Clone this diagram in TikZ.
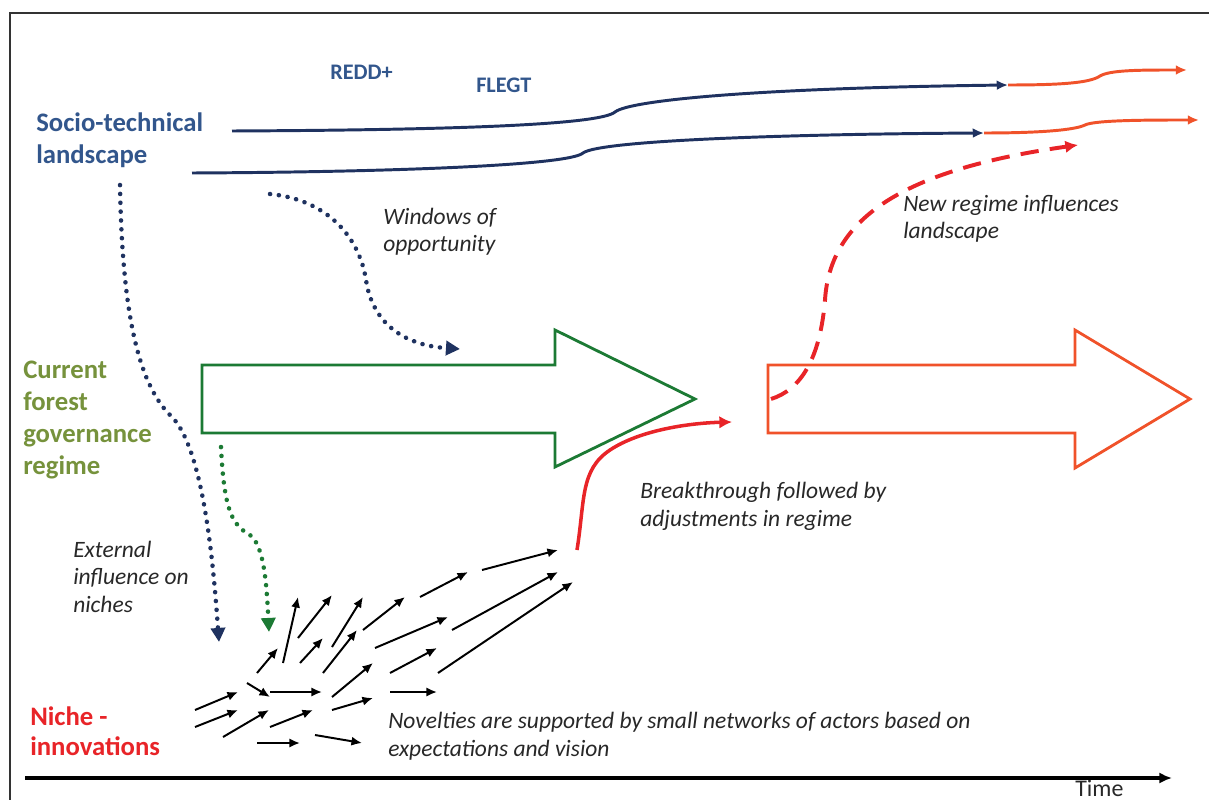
\documentclass[tikz,border=0pt]{standalone}
\usepackage{fontspec}
\setmainfont{Carlito}
\usepackage{tikz}
\usetikzlibrary{arrows.meta}
\definecolor{navy}{RGB}{31,50,96}
\definecolor{lblue}{RGB}{50,86,140}
\definecolor{orng}{RGB}{240,82,42}
\definecolor{rred}{RGB}{232,36,40}
\definecolor{dgreen}{RGB}{28,122,52}
\definecolor{olive}{RGB}{118,146,60}
\definecolor{notegray}{RGB}{40,40,40}
\tikzset{>=latex}
\tikzstyle{lbl} = [inner sep=0pt, anchor=base west, align=left, font=\bfseries\fontsize{19}{23.4}\selectfont]
\tikzstyle{tag} = [inner sep=0pt, anchor=base west, text=lblue, font=\bfseries\fontsize{15.8}{18}\selectfont]
\tikzstyle{note} = [inner sep=0pt, anchor=base west, align=left, text=notegray, font=\itshape\fontsize{16.7}{19.5}\selectfont]
\tikzstyle{trend} = [line width=2.1pt, -{Latex[length=8pt,width=7pt]}]
\tikzstyle{dots} = [line width=3.2pt, line cap=round, dash pattern=on 0.1pt off 6.2pt, -{Triangle[length=10pt,width=10pt]}]
\tikzstyle{blockarrow} = [line width=2pt, line join=miter]
\tikzstyle{small} = [line width=1.4pt, -{Latex[length=7.5pt,width=6.5pt]}]

\begin{document}
\begin{tikzpicture}[x=0.025cm, y=-0.025cm]
\useasboundingbox (0,0) rectangle (1209,800);
\draw [line width=1.4pt, draw=black!80] (10,800) -- (10,13) -- (1209,13);

\node [lbl, text=lblue] (landscape) at (36,164) {Socio-technical\\landscape};
\node [lbl, text=olive, font=\bfseries\fontsize{19}{22.7}\selectfont] (regimelbl) at (23,474) {Current\\forest\\governance\\regime};
\node [lbl, text=rred, font=\bfseries\fontsize{19}{21.3}\selectfont] (niche) at (30,755) {Niche -\\innovations};
\node [tag] (redd) at (330,80) {REDD+};
\node [tag] (flegt) at (476,93) {FLEGT};

\node [note] (windows) at (383,252) {Windows of\\opportunity};
\node [note] (newinfl) at (903,239) {New regime influences\\landscape};
\node [note] (breakthru) at (640,526) {Breakthrough followed by\\adjustments in regime};
\node [note] (external) at (73,612) {External\\influence on\\niches};
\node [note] (novelties) at (388,756) {Novelties are supported by small networks of actors based on\\expectations and vision};
\node [inner sep=0pt, anchor=base west, text=notegray, font=\fontsize{17}{19}\selectfont] (time) at (1075,796) {Time};

\coordinate (ua) at (232,131);
\coordinate (ub) at (1008,85);
\coordinate (uc) at (1187,70);
\coordinate (la) at (192,173);
\coordinate (lb) at (984,133);
\coordinate (lc) at (1199,120);
\draw [trend, draw=navy] (ua) .. controls (450,130) and (600,125) .. (615,112) .. controls (630,100) and (760,88) .. (ub);
\draw [trend, draw=orng] (ub) .. controls (1060,85) and (1090,83) .. (1100,76) .. controls (1110,70) and (1140,70) .. (uc);
\draw [trend, draw=navy] (la) .. controls (400,172) and (570,165) .. (583,153) .. controls (600,140) and (800,134) .. (lb);
\draw [trend, draw=orng] (lb) .. controls (1040,133) and (1075,130) .. (1085,125) .. controls (1095,120) and (1150,120) .. (lc);

\draw [blockarrow, draw=dgreen] (202,365) -- (555,365) -- (555,330) -- (695,399) -- (555,467) -- (555,433) -- (202,433) -- cycle;
\draw [blockarrow, draw=orng] (768,365) -- (1075,365) -- (1075,330) -- (1190,399) -- (1075,468) -- (1075,433) -- (768,433) -- cycle;
\coordinate (nr1) at (771,399);
\coordinate (nr2) at (1078,145);
\coordinate (bt1) at (577,550);
\coordinate (bt2) at (732,422);

\coordinate (ext1) at (120,185);
\coordinate (ext2) at (219,642);
\coordinate (win1) at (270,194);
\coordinate (win2) at (460,349);
\coordinate (gr1) at (221,447);
\coordinate (gr2) at (269,632);
\draw [dots, draw=navy] (ext1) .. controls (122,300) and (135,380) .. (170,415) .. controls (203,445) and (213,560) .. (ext2);
\draw [dots, draw=navy] (win1) .. controls (330,200) and (360,240) .. (366,280) .. controls (372,320) and (400,345) .. (win2);
\draw [dots, draw=dgreen] (gr1) .. controls (224,510) and (232,525) .. (250,535) .. controls (262,545) and (266,570) .. (gr2);

\draw [line width=2.8pt, draw=rred, dash pattern=on 13pt off 8pt, -{Latex[length=9pt,width=9pt]}] (nr1) .. controls (800,390) and (820,360) .. (825,300) .. controls (830,220) and (900,170) .. (nr2);
\draw [line width=2.5pt, draw=rred, -{Latex[length=9pt,width=9pt]}] (bt1) .. controls (585,500) and (580,470) .. (610,450) .. controls (640,430) and (690,423) .. (bt2);

\foreach \i/\ax/\ay/\bx/\by in {1/195/710/238/692, 2/195/727/238/710, 3/223/737/269/710, 4/247/683/270/697,
  5/270/692/322/692, 6/270/727/313/710, 7/257/743/300/743, 8/315/735/362/743,
  9/257/673/278/648, 10/283/663/298/597, 11/298/638/332/595, 12/300/663/323/638,
  13/323/673/357/630, 14/332/647/363/597, 15/332/697/373/663, 16/332/710/373/698,
  17/363/630/405/597, 18/375/648/448/617, 19/390/673/437/648, 20/390/692/437/692,
  21/420/597/468/572, 22/452/630/558/572, 23/438/673/573/582, 24/482/570/558/550}
{
  \coordinate (s\i) at (\ax,\ay);
  \coordinate (e\i) at (\bx,\by);
  \draw [small] (s\i) -- (e\i);
}

\coordinate (t1) at (25,778);
\coordinate (t2) at (1172,778);
\draw [line width=2.8pt, -{Latex[length=9pt,width=8pt]}] (t1) -- (t2);
\end{tikzpicture}
\end{document}
